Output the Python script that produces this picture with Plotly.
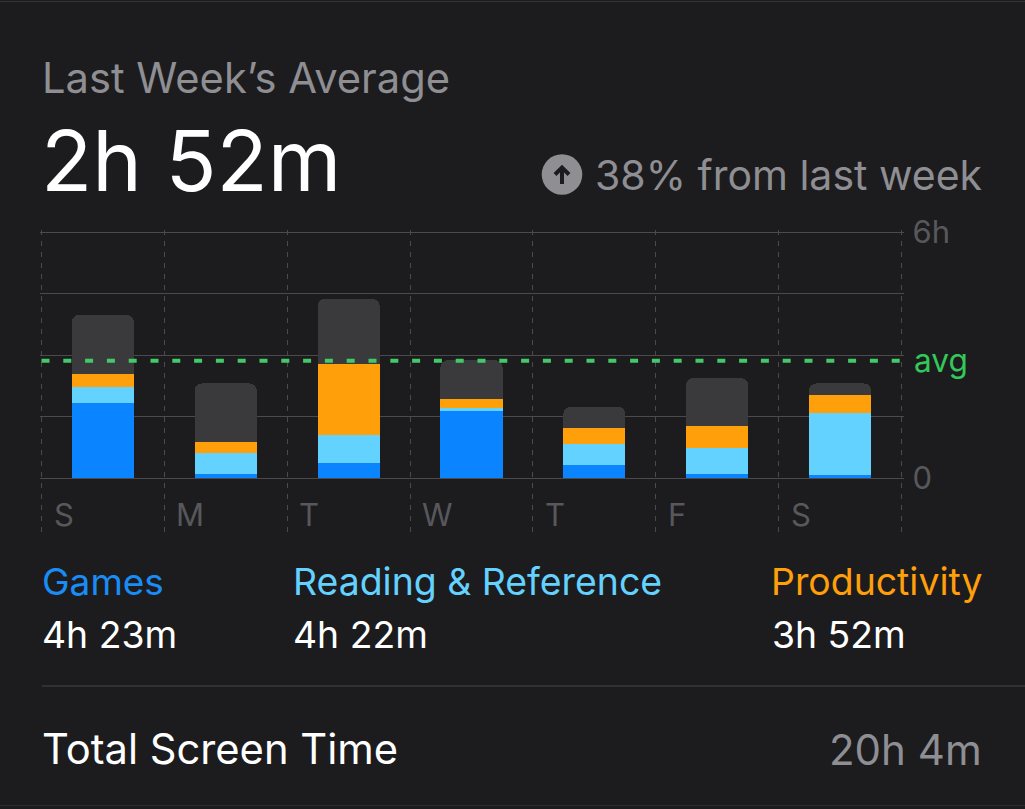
import plotly.graph_objects as go

W, H = 1025, 809
days = ["S", "M", "T", "W", "T", "F", "S"]
games = [1.83, 0.105, 0.38, 1.65, 0.317, 0.105, 0.08]
reading = [0.39, 0.52, 0.667, 0.073, 0.512, 0.626, 1.52]
productivity = [0.325, 0.27, 1.74, 0.21, 0.40, 0.545, 0.43]
other = [1.44, 1.42, 1.59, 0.95, 0.512, 1.17, 0.285]
average = 2.87
y_ticks = [0, 1.5, 3, 4.5, 6]
y_labels = ["0", "", "", "", "6h"]

BG = "#1c1c1e"
GRID = "#4a4a4c"
GREY = "#8e8e93"
AXIS_TXT = "#58585c"
FONT = "Inter"

def px(x):
    return x / W

def py(y):
    return 1 - y / H

x_pos = list(range(len(days)))
fig = go.Figure()
for name, vals, col in [("Games", games, "#0a84ff"), ("Reading & Reference", reading, "#64d2ff"),
                        ("Productivity", productivity, "#ff9f0a"), ("Other", other, "#3a3a3c")]:
    fig.add_bar(x=x_pos, y=vals, name=name, marker=dict(color=col, line=dict(width=0)), width=0.505)

fig.add_scatter(x=[-0.5, 6.5], y=[average, average], mode="lines", cliponaxis=False,
                line=dict(color="#43c86a", width=4, dash="8px,13.8px"), name="avg")

def note(x, y, text, size, color, anchor="left", weight=400):
    fig.add_annotation(xref="paper", yref="paper", x=px(x), y=py(y), text=text, showarrow=False,
                       xanchor=anchor, yanchor="middle", font=dict(family=FONT, size=size, color=color, weight=weight),
                       borderpad=0, borderwidth=0)

note(42, 78, "Last Week’s Average", 41.7, GREY)
note(41, 160, "2h 52m", 84, "#ffffff")
note(982, 175, "38% from last week", 41, GREY, "right")
note(914, 360.5, "avg", 31.6, "#34c759")
note(42, 581, "Games", 37, "#1a8cf5")
note(293, 581, "Reading & Reference", 37.4, "#64d2ff")
note(982, 581, "Productivity", 37.4, "#ff9f0a", "right")
note(42, 634, "4h 23m", 37.3, "#ffffff")
note(293, 634, "4h 22m", 37.3, "#ffffff")
note(772, 634, "3h 52m", 37.3, "#ffffff")
note(42, 749, "Total Screen Time", 41.7, "#ffffff")
note(982, 749, "20h 4m", 42, GREY, "right")

for i, d in enumerate(days):
    fig.add_annotation(x=i - 0.5, y=-0.88, xref="x", yref="y", text=d, showarrow=False, xanchor="left",
                       yanchor="middle", xshift=10, font=dict(family=FONT, size=31, color=AXIS_TXT))

shapes = [
    dict(type="circle", xref="paper", yref="paper", x0=px(541.7), x1=px(582.3), y0=py(154.2), y1=py(194.8),
         fillcolor=GREY, line_width=0),
    dict(type="line", xref="paper", yref="paper", x0=px(562), x1=px(562), y0=py(168), y1=py(184),
         line=dict(color=BG, width=4)),
    dict(type="path", xref="paper", yref="paper",
         path=f"M {px(555)} {py(174.5)} L {px(562)} {py(167.5)} L {px(569)} {py(174.5)}",
         line=dict(color=BG, width=4)),
    dict(type="line", xref="paper", yref="paper", x0=px(42), x1=1, y0=py(686), y1=py(686),
         line=dict(color="#38383a", width=1.5)),
    dict(type="line", xref="paper", yref="paper", x0=0, x1=1, y0=py(1.5), y1=py(1.5),
         line=dict(color="#343436", width=1)),
    dict(type="line", xref="paper", yref="paper", x0=0, x1=1, y0=py(805.5), y1=py(805.5),
         line=dict(color="#2c2c2e", width=1)),
]

fig.update_layout(
    width=W, height=H, margin=dict(l=0, r=0, t=0, b=0, autoexpand=False), paper_bgcolor=BG, plot_bgcolor=BG,
    barmode="stack", barcornerradius=7, showlegend=False, shapes=shapes,
    xaxis=dict(domain=[px(39.5), px(903.5)], range=[-0.5163, 6.5163], tickvals=[i - 0.5 for i in range(8)],
               showticklabels=False, ticks="", showgrid=True, gridcolor=GRID, griddash="5px,6px", gridwidth=1, zeroline=False),
    yaxis=dict(domain=[py(532), py(230)], range=[-1.31, 6.06], side="right", tickvals=y_ticks, ticktext=y_labels,
               ticks="", showgrid=True, gridcolor=GRID, gridwidth=1.2, zeroline=False, ticklabelstandoff=8,
               tickfont=dict(family=FONT, size=31, color=AXIS_TXT)),
)

fig.write_html("out.html", config={"displayModeBar": False},
               post_script="document.body.style.margin='0';document.documentElement.style.overflow='hidden';")
